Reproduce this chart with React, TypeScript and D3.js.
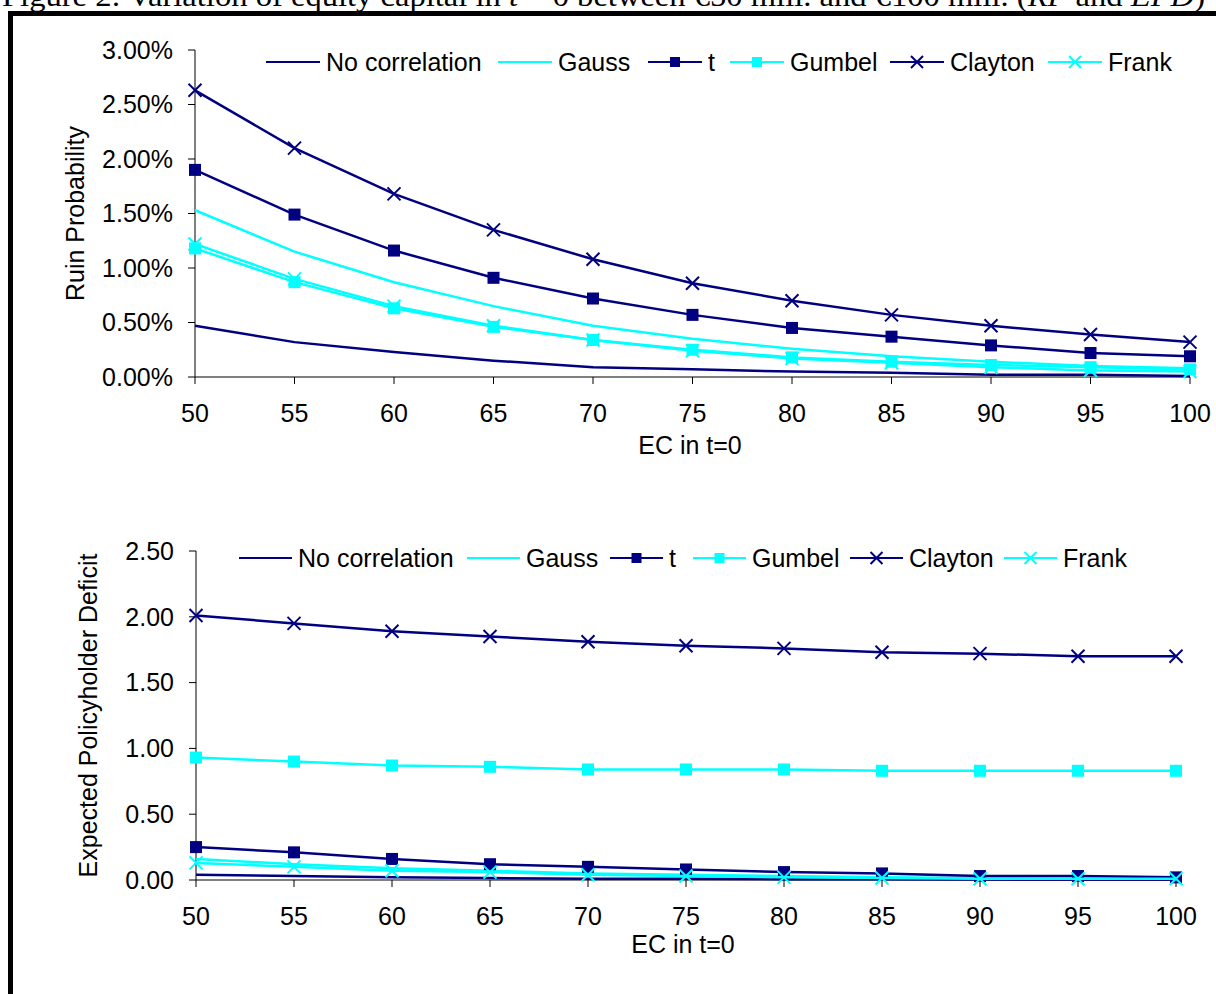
import React from "react";
import * as d3 from "d3";

const ecValues = [50, 55, 60, 65, 70, 75, 80, 85, 90, 95, 100];
const seriesNames = ["No correlation", "Gauss", "t", "Gumbel", "Clayton", "Frank"];

// Ruin probability (in %)
const rpNoCorr = [0.47, 0.32, 0.23, 0.15, 0.09, 0.07, 0.05, 0.04, 0.02, 0.02, 0.01];
const rpGauss = [1.53, 1.15, 0.87, 0.65, 0.47, 0.35, 0.26, 0.19, 0.14, 0.10, 0.08];
const rpT = [1.90, 1.49, 1.16, 0.91, 0.72, 0.57, 0.45, 0.37, 0.29, 0.22, 0.19];
const rpGumbel = [1.18, 0.87, 0.63, 0.46, 0.34, 0.25, 0.18, 0.14, 0.11, 0.09, 0.07];
const rpClayton = [2.63, 2.10, 1.68, 1.35, 1.08, 0.86, 0.70, 0.57, 0.47, 0.39, 0.32];
const rpFrank = [1.22, 0.90, 0.65, 0.47, 0.34, 0.24, 0.17, 0.13, 0.09, 0.06, 0.05];

// Expected policyholder deficit
const epdNoCorr = [0.04, 0.03, 0.02, 0.015, 0.01, 0.01, 0.006, 0.005, 0.003, 0.002, 0.002];
const epdGauss = [0.16, 0.12, 0.09, 0.07, 0.05, 0.04, 0.03, 0.02, 0.015, 0.01, 0.01];
const epdT = [0.25, 0.21, 0.16, 0.12, 0.10, 0.08, 0.06, 0.05, 0.03, 0.03, 0.02];
const epdGumbel = [0.93, 0.90, 0.87, 0.86, 0.84, 0.84, 0.84, 0.83, 0.83, 0.83, 0.83];
const epdClayton = [2.01, 1.95, 1.89, 1.85, 1.81, 1.78, 1.76, 1.73, 1.72, 1.70, 1.70];
const epdFrank = [0.13, 0.10, 0.07, 0.06, 0.04, 0.03, 0.02, 0.015, 0.01, 0.01, 0.01];

const rpTicks = [0, 0.5, 1.0, 1.5, 2.0, 2.5, 3.0];
const epdTicks = [0, 0.5, 1.0, 1.5, 2.0, 2.5];

const NAVY = "#000080";
const CYAN = "#00FFFF";
const FONT = "'Liberation Sans', Arial, sans-serif";
const FS = 25;

type Style = { color: string; marker: "none" | "square" | "x" };
const styles: Style[] = [
  { color: NAVY, marker: "none" },
  { color: CYAN, marker: "none" },
  { color: NAVY, marker: "square" },
  { color: CYAN, marker: "square" },
  { color: NAVY, marker: "x" },
  { color: CYAN, marker: "x" },
];

function Marker({ x, y, s, size }: { x: number; y: number; s: Style; size: number }) {
  if (s.marker === "square") {
    return <rect x={x - size / 2} y={y - size / 2} width={size} height={size} fill={s.color} />;
  }
  if (s.marker === "x") {
    const h = size / 2;
    return (
      <path
        d={`M${x - h},${y - h}L${x + h},${y + h}M${x - h},${y + h}L${x + h},${y - h}`}
        stroke={s.color}
        strokeWidth={2}
        fill="none"
      />
    );
  }
  return null;
}

type PanelProps = {
  data: number[][];
  xRange: [number, number];
  yDomain: [number, number];
  yRange: [number, number];
  ticks: number[];
  fmt: (v: number) => string;
  yTitle: string;
  yTitleX: number;
  xTitleX: number;
  xTitleY: number;
  legendY: number;
  legendX: number[];
  legendLine: number;
};

function Panel(p: PanelProps) {
  const x = d3.scaleLinear().domain([50, 100]).range(p.xRange);
  const y = d3.scaleLinear().domain(p.yDomain).range(p.yRange);
  const line = d3
    .line<number>()
    .x((_, i) => x(ecValues[i]))
    .y((d) => y(d));
  const x0 = p.xRange[0];
  const y0 = p.yRange[0];
  const yTop = p.yRange[1];
  return (
    <g>
      <line x1={x0} x2={x0} y1={yTop} y2={y0} stroke="#000" strokeWidth={1} />
      {p.ticks.map((t) => (
        <g key={"yt" + t}>
          <line x1={x0 - 7} x2={x0} y1={y(t)} y2={y(t)} stroke="#000" />
          <text x={x0 - 22} y={y(t)} dy="0.35em" textAnchor="end" fontSize={FS} fontFamily={FONT}>
            {p.fmt(t)}
          </text>
        </g>
      ))}
      <line x1={x0} x2={p.xRange[1]} y1={y0} y2={y0} stroke="#000" strokeWidth={1} />
      {ecValues.map((v) => (
        <g key={"xt" + v}>
          <line x1={x(v)} x2={x(v)} y1={y0} y2={y0 + 7} stroke="#000" />
          <text x={x(v)} y={y0 + 45} textAnchor="middle" fontSize={FS} fontFamily={FONT}>
            {v}
          </text>
        </g>
      ))}
      <text x={p.xTitleX} y={p.xTitleY} textAnchor="middle" fontSize={FS} fontFamily={FONT}>
        EC in t=0
      </text>
      <text
        transform={`translate(${p.yTitleX},${(y0 + yTop) / 2}) rotate(-90)`}
        textAnchor="middle"
        dy="0.35em"
        fontSize={FS}
        fontFamily={FONT}
      >
        {p.yTitle}
      </text>
      {p.data.map((vals, si) => (
        <g key={"s" + si}>
          <path d={line(vals) || ""} fill="none" stroke={styles[si].color} strokeWidth={2.5} />
          {vals.map((v, i) => (
            <Marker
              key={i}
              x={x(ecValues[i])}
              y={y(v)}
              s={styles[si]}
              size={styles[si].marker === "x" ? 13 : 12}
            />
          ))}
        </g>
      ))}
      {seriesNames.map((name, si) => {
        const lx = p.legendX[si];
        const ly = p.legendY;
        return (
          <g key={"lg" + si}>
            <line x1={lx} x2={lx + p.legendLine} y1={ly} y2={ly} stroke={styles[si].color} strokeWidth={2} />
            <Marker x={lx + p.legendLine / 2} y={ly} s={styles[si]} size={styles[si].marker === "x" ? 12 : 10} />
            <text x={lx + p.legendLine + 6} y={ly} dy="0.35em" fontSize={FS} fontFamily={FONT}>
              {name}
            </text>
          </g>
        );
      })}
    </g>
  );
}

export default function App() {
  const pctFmt = (v: number) => v.toFixed(2) + "%";
  const numFmt = (v: number) => v.toFixed(2);
  return (
    <svg width={1216} height={994} style={{ position: "absolute", left: 0, top: 0, background: "#fff" }}>
      <rect x={0} y={0} width={1216} height={994} fill="#fff" />
      <text
        x={2}
        y={6}
        fontSize={30}
        fontFamily="'Liberation Serif', 'Times New Roman', serif"
        textLength={1203}
        lengthAdjust="spacingAndGlyphs"
      >
        Figure 2: Variation of equity capital in <tspan fontStyle="italic">t</tspan> = 0 between €50 mill. and €100
        mill. (<tspan fontStyle="italic">RP</tspan> and <tspan fontStyle="italic">EPD</tspan>)
      </text>
      <rect x={10.5} y={13.5} width={1220} height={1000} fill="none" stroke="#000" strokeWidth={5} />
      <Panel
        data={[rpNoCorr, rpGauss, rpT, rpGumbel, rpClayton, rpFrank]}
        xRange={[195, 1190]}
        yDomain={[0, 3]}
        yRange={[377, 50]}
        ticks={rpTicks}
        fmt={pctFmt}
        yTitle="Ruin Probability"
        yTitleX={75}
        xTitleX={690}
        xTitleY={454}
        legendY={62}
        legendX={[266, 498, 648, 730, 890, 1048]}
        legendLine={54}
      />
      <Panel
        data={[epdNoCorr, epdGauss, epdT, epdGumbel, epdClayton, epdFrank]}
        xRange={[196, 1176]}
        yDomain={[0, 2.5]}
        yRange={[880, 551]}
        ticks={epdTicks}
        fmt={numFmt}
        yTitle="Expected Policyholder Deficit"
        yTitleX={88}
        xTitleX={683}
        xTitleY={953}
        legendY={558}
        legendX={[239, 467, 610, 693, 850, 1004]}
        legendLine={53}
      />
    </svg>
  );
}
